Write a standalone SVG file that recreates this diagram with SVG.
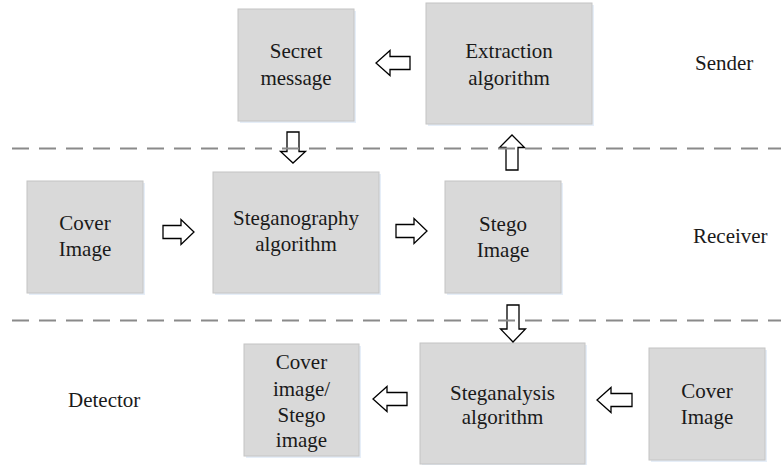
<svg xmlns="http://www.w3.org/2000/svg" width="781" height="465" viewBox="0 0 781 465">
  <rect width="781" height="465" fill="#ffffff"/>
  <g id="nodes" fill="#d9d9d9" stroke="#c4c4c4" stroke-width="1">
    <g id="secret-message">
      <rect x="240" y="11" width="116" height="112" fill="#d6e3f3" stroke="none" opacity="0.6"/>
      <rect x="238" y="9" width="116" height="112"/>
    </g>
    <g id="extraction-algorithm">
      <rect x="428" y="5" width="166" height="121" fill="#d6e3f3" stroke="none" opacity="0.6"/>
      <rect x="426" y="3" width="166" height="121"/>
    </g>
    <g id="cover-image-in">
      <rect x="29" y="183" width="116" height="112" fill="#d6e3f3" stroke="none" opacity="0.6"/>
      <rect x="27" y="181" width="116" height="112"/>
    </g>
    <g id="steganography-algorithm">
      <rect x="215" y="174" width="166" height="121" fill="#d6e3f3" stroke="none" opacity="0.6"/>
      <rect x="213" y="172" width="166" height="121"/>
    </g>
    <g id="stego-image">
      <rect x="447" y="183" width="116" height="112" fill="#d6e3f3" stroke="none" opacity="0.6"/>
      <rect x="445" y="181" width="116" height="112"/>
    </g>
    <g id="cover-or-stego">
      <rect x="246" y="346" width="115" height="112" fill="#d6e3f3" stroke="none" opacity="0.6"/>
      <rect x="244" y="344" width="115" height="112"/>
    </g>
    <g id="steganalysis-algorithm">
      <rect x="422" y="345" width="165" height="121" fill="#d6e3f3" stroke="none" opacity="0.6"/>
      <rect x="420" y="343" width="165" height="121"/>
    </g>
    <g id="cover-image-test">
      <rect x="651" y="350" width="116" height="112" fill="#d6e3f3" stroke="none" opacity="0.6"/>
      <rect x="649" y="348" width="116" height="112"/>
    </g>
  </g>
  <text x="296" y="58" font-family="Liberation Serif" font-size="21" text-anchor="middle" fill="#1a1a1a">Secret</text>
  <text x="296" y="85" font-family="Liberation Serif" font-size="21" text-anchor="middle" fill="#1a1a1a">message</text>
  <text x="509" y="58" font-family="Liberation Serif" font-size="21" text-anchor="middle" fill="#1a1a1a">Extraction</text>
  <text x="509" y="85" font-family="Liberation Serif" font-size="21" text-anchor="middle" fill="#1a1a1a">algorithm</text>
  <text x="85" y="230" font-family="Liberation Serif" font-size="21" text-anchor="middle" fill="#1a1a1a">Cover</text>
  <text x="85" y="256" font-family="Liberation Serif" font-size="21" text-anchor="middle" fill="#1a1a1a">Image</text>
  <text x="296" y="225" font-family="Liberation Serif" font-size="21" text-anchor="middle" fill="#1a1a1a">Steganography</text>
  <text x="296" y="251" font-family="Liberation Serif" font-size="21" text-anchor="middle" fill="#1a1a1a">algorithm</text>
  <text x="503" y="231" font-family="Liberation Serif" font-size="21" text-anchor="middle" fill="#1a1a1a">Stego</text>
  <text x="503" y="257" font-family="Liberation Serif" font-size="21" text-anchor="middle" fill="#1a1a1a">Image</text>
  <text x="301.5" y="369" font-family="Liberation Serif" font-size="21" text-anchor="middle" fill="#1a1a1a">Cover</text>
  <text x="301.5" y="396" font-family="Liberation Serif" font-size="21" text-anchor="middle" fill="#1a1a1a">image/</text>
  <text x="301.5" y="422" font-family="Liberation Serif" font-size="21" text-anchor="middle" fill="#1a1a1a">Stego</text>
  <text x="301.5" y="447" font-family="Liberation Serif" font-size="21" text-anchor="middle" fill="#1a1a1a">image</text>
  <text x="502.5" y="400" font-family="Liberation Serif" font-size="21" text-anchor="middle" fill="#1a1a1a">Steganalysis</text>
  <text x="502.5" y="424" font-family="Liberation Serif" font-size="21" text-anchor="middle" fill="#1a1a1a">algorithm</text>
  <text x="707" y="398" font-family="Liberation Serif" font-size="21" text-anchor="middle" fill="#1a1a1a">Cover</text>
  <text x="707" y="424" font-family="Liberation Serif" font-size="21" text-anchor="middle" fill="#1a1a1a">Image</text>
  <text x="695" y="70" font-family="Liberation Serif" font-size="21" fill="#1a1a1a">Sender</text>
  <text x="693" y="243" font-family="Liberation Serif" font-size="21" fill="#1a1a1a">Receiver</text>
  <text x="68" y="407" font-family="Liberation Serif" font-size="21" fill="#1a1a1a">Detector</text>
  <g id="connectors" fill="#ffffff" stroke="#000000" stroke-width="1.3" stroke-linejoin="miter">
    <path d="M410,56.5 H390 V50.5 L376,63 L390,75.5 V69.5 H410 Z"/>
    <path d="M287,132 V151.5 H280.5 L293,163 L305.5,151.5 H299 V132 Z"/>
    <path d="M163,225.5 H181 V219.5 L194,232 L181,244.5 V238.5 H163 Z"/>
    <path d="M396,224.5 H414 V218.5 L427,231 L414,243.5 V237.5 H396 Z"/>
    <path d="M506,170 V147.5 H499.5 L512,135 L524.5,147.5 H518 V170 Z"/>
    <path d="M507,305 V329 H500.5 L513,342 L525.5,329 H519 V305 Z"/>
    <path d="M407,392.5 H387 V386.5 L373,399 L387,411.5 V405.5 H407 Z"/>
    <path d="M632,393.5 H611 V387.5 L597,400 L611,412.5 V406.5 H632 Z"/>
  </g>
  <g id="dividers" stroke="#8a8a8a" stroke-width="2.2" stroke-dasharray="17 10" fill="none">
    <line x1="12" y1="148.5" x2="781" y2="148.5"/>
    <line x1="12" y1="320.5" x2="781" y2="320.5"/>
  </g>
</svg>
